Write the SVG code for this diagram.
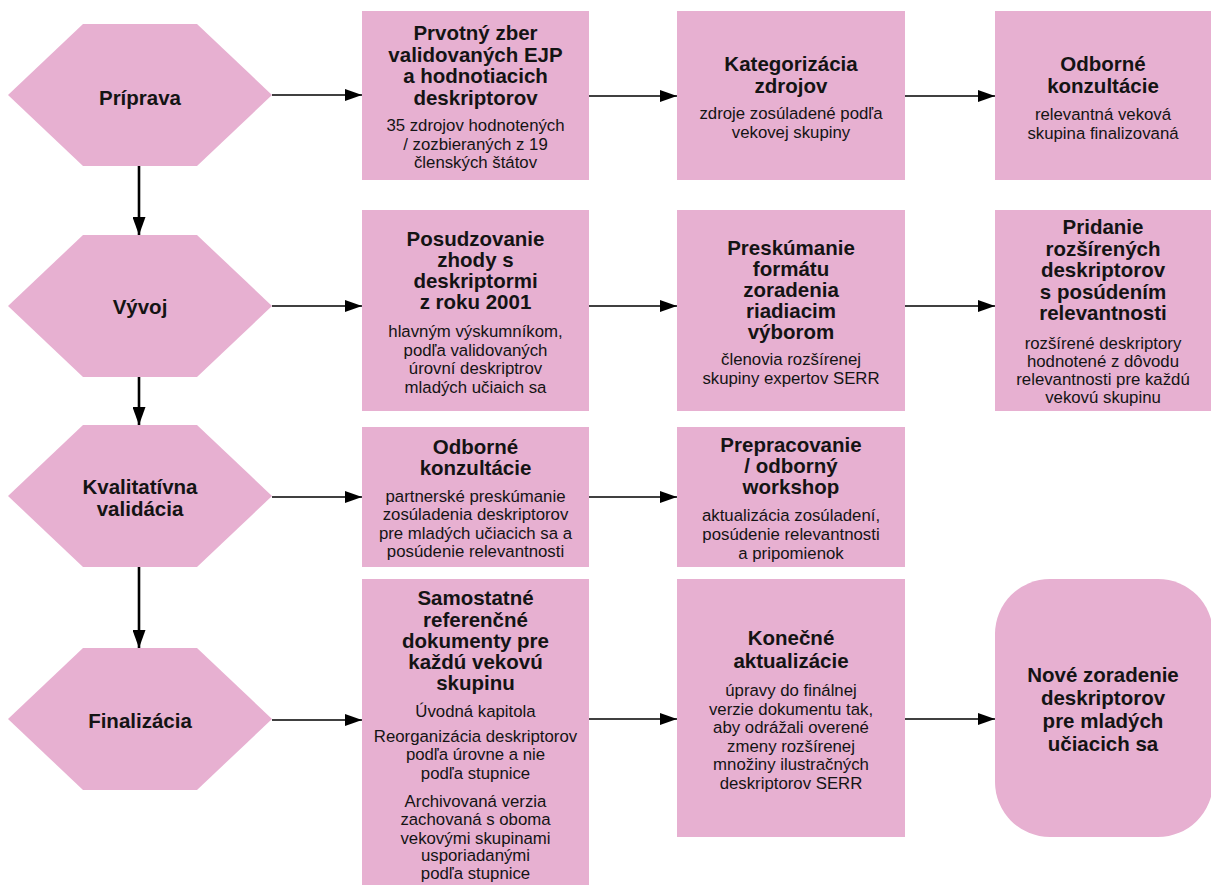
<svg xmlns="http://www.w3.org/2000/svg" width="1211" height="885" viewBox="0 0 1211 885">
<style>
.shape{fill:#E7B0D1;stroke:none}
text{font-family:"Liberation Sans",Arial,sans-serif;fill:#141414;text-anchor:middle}
.t{font-size:20.5px;font-weight:bold}
.s{font-size:16.8px}
.h{stroke:#000;stroke-width:1.4;fill:none}
.v{stroke:#000;stroke-width:2.6;fill:none}
</style>
<defs>
<marker id="ah" viewBox="0 0 17 12" refX="17" refY="6" markerWidth="17" markerHeight="12" markerUnits="userSpaceOnUse" orient="auto"><path d="M0,0 L17,6 L0,12 z" fill="#000"/></marker>
<marker id="av" viewBox="0 0 18 13" refX="18" refY="6.5" markerWidth="18" markerHeight="13" markerUnits="userSpaceOnUse" orient="auto"><path d="M0,0 L18,6.5 L0,13 z" fill="#000"/></marker>
</defs>
<rect width="1211" height="885" fill="#fff"/>

<g id="connectors">
<line class="v" x1="139" y1="166" x2="139" y2="235" marker-end="url(#av)"/>
<line class="v" x1="139" y1="377" x2="139" y2="425" marker-end="url(#av)"/>
<line class="v" x1="139" y1="567" x2="139" y2="648" marker-end="url(#av)"/>
<line class="h" x1="272" y1="95" x2="362" y2="95" marker-end="url(#ah)"/>
<line class="h" x1="589" y1="96" x2="677" y2="96" marker-end="url(#ah)"/>
<line class="h" x1="905" y1="96" x2="995" y2="96" marker-end="url(#ah)"/>
<line class="h" x1="272" y1="306" x2="362" y2="306" marker-end="url(#ah)"/>
<line class="h" x1="589" y1="306" x2="677" y2="306" marker-end="url(#ah)"/>
<line class="h" x1="905" y1="306" x2="995" y2="306" marker-end="url(#ah)"/>
<line class="h" x1="272" y1="497" x2="362" y2="497" marker-end="url(#ah)"/>
<line class="h" x1="589" y1="497" x2="677" y2="497" marker-end="url(#ah)"/>
<line class="h" x1="272" y1="720" x2="362" y2="720" marker-end="url(#ah)"/>
<line class="h" x1="589" y1="719" x2="677" y2="719" marker-end="url(#ah)"/>
<line class="h" x1="905" y1="719" x2="995" y2="719" marker-end="url(#ah)"/>
</g>

<g id="priprava">
<polygon class="shape" points="8,95 83,24 197,24 272,95 197,166 83,166"/>
<text class="t" x="140" y="105">Príprava</text>
</g>
<g id="vyvoj">
<polygon class="shape" points="8,306 83,235 197,235 272,306 197,377 83,377"/>
<text class="t" x="140" y="314">Vývoj</text>
</g>
<g id="kvalitativna">
<polygon class="shape" points="8,496 83,425 197,425 272,496 197,567 83,567"/>
<text class="t" x="140" y="494">Kvalitatívna</text>
<text class="t" x="140" y="515.5">validácia</text>
</g>
<g id="finalizacia">
<polygon class="shape" points="8,719 83,648 197,648 272,719 197,790 83,790"/>
<text class="t" x="140" y="728">Finalizácia</text>
</g>

<g id="prvotny">
<rect class="shape" x="362" y="11" width="227" height="169"/>
<text class="t" x="475.5" y="40">Prvotný zber</text>
<text class="t" x="475.5" y="61.5">validovaných EJP</text>
<text class="t" x="475.5" y="83">a hodnotiacich</text>
<text class="t" x="475.5" y="104.5">deskriptorov</text>
<text class="s" x="475.5" y="131">35 zdrojov hodnotených</text>
<text class="s" x="475.5" y="149.5">/ zozbieraných z 19</text>
<text class="s" x="475.5" y="168">členských štátov</text>
</g>
<g id="kategorizacia">
<rect class="shape" x="677" y="11" width="228" height="169"/>
<text class="t" x="791" y="71">Kategorizácia</text>
<text class="t" x="791" y="92.5">zdrojov</text>
<text class="s" x="791" y="119">zdroje zosúladené podľa</text>
<text class="s" x="791" y="137.5">vekovej skupiny</text>
</g>
<g id="odborne1">
<rect class="shape" x="995" y="11" width="216" height="169"/>
<text class="t" x="1103" y="71">Odborné</text>
<text class="t" x="1103" y="92.5">konzultácie</text>
<text class="s" x="1103" y="120">relevantná veková</text>
<text class="s" x="1103" y="138.5">skupina finalizovaná</text>
</g>

<g id="posudzovanie">
<rect class="shape" x="362" y="210" width="227" height="201"/>
<text class="t" x="475.5" y="246">Posudzovanie</text>
<text class="t" x="475.5" y="267">zhody s</text>
<text class="t" x="475.5" y="288">deskriptormi</text>
<text class="t" x="475.5" y="309">z roku 2001</text>
<text class="s" x="475.5" y="337">hlavným výskumníkom,</text>
<text class="s" x="475.5" y="355.5">podľa validovaných</text>
<text class="s" x="475.5" y="374">úrovní deskriptrov</text>
<text class="s" x="475.5" y="392.5">mladých učiaich sa</text>
</g>
<g id="preskumanie">
<rect class="shape" x="677" y="210" width="228" height="201"/>
<text class="t" x="791" y="255">Preskúmanie</text>
<text class="t" x="791" y="276">formátu</text>
<text class="t" x="791" y="297">zoradenia</text>
<text class="t" x="791" y="318">riadiacim</text>
<text class="t" x="791" y="339">výborom</text>
<text class="s" x="791" y="365">členovia rozšírenej</text>
<text class="s" x="791" y="384">skupiny expertov SERR</text>
</g>
<g id="pridanie">
<rect class="shape" x="995" y="210" width="216" height="201"/>
<text class="t" x="1103" y="234">Pridanie</text>
<text class="t" x="1103" y="255.5">rozšírených</text>
<text class="t" x="1103" y="277">deskriptorov</text>
<text class="t" x="1103" y="298.5">s posúdením</text>
<text class="t" x="1103" y="320">relevantnosti</text>
<text class="s" x="1103" y="349">rozšírené deskriptory</text>
<text class="s" x="1103" y="367">hodnotené z dôvodu</text>
<text class="s" x="1103" y="385">relevantnosti pre každú</text>
<text class="s" x="1103" y="403">vekovú skupinu</text>
</g>

<g id="odborne2">
<rect class="shape" x="362" y="427" width="227" height="140"/>
<text class="t" x="475.5" y="454">Odborné</text>
<text class="t" x="475.5" y="475">konzultácie</text>
<text class="s" x="475.5" y="502">partnerské preskúmanie</text>
<text class="s" x="475.5" y="520">zosúladenia deskriptorov</text>
<text class="s" x="475.5" y="538.5">pre mladých učiacich sa a</text>
<text class="s" x="475.5" y="557">posúdenie relevantnosti</text>
</g>
<g id="prepracovanie">
<rect class="shape" x="677" y="427" width="228" height="140"/>
<text class="t" x="791" y="452">Prepracovanie</text>
<text class="t" x="791" y="473">/ odborný</text>
<text class="t" x="791" y="494">workshop</text>
<text class="s" x="791" y="521">aktualizácia zosúladení,</text>
<text class="s" x="791" y="539.5">posúdenie relevantnosti</text>
<text class="s" x="791" y="558.5">a pripomienok</text>
</g>

<g id="samostatne">
<rect class="shape" x="362" y="579" width="227" height="310"/>
<text class="t" x="475.5" y="605">Samostatné</text>
<text class="t" x="475.5" y="626.5">referenčné</text>
<text class="t" x="475.5" y="647.5">dokumenty pre</text>
<text class="t" x="475.5" y="668.5">každú vekovú</text>
<text class="t" x="475.5" y="690">skupinu</text>
<text class="s" x="475.5" y="717">Úvodná kapitola</text>
<text class="s" x="475.5" y="742">Reorganizácia deskriptorov</text>
<text class="s" x="475.5" y="760">podľa úrovne a nie</text>
<text class="s" x="475.5" y="778.5">podľa stupnice</text>
<text class="s" x="475.5" y="807">Archivovaná verzia</text>
<text class="s" x="475.5" y="825">zachovaná s oboma</text>
<text class="s" x="475.5" y="843.5">vekovými skupinami</text>
<text class="s" x="475.5" y="861">usporiadanými</text>
<text class="s" x="475.5" y="879">podľa stupnice</text>
</g>
<g id="konecne">
<rect class="shape" x="677" y="579" width="228" height="258"/>
<text class="t" x="791" y="645">Konečné</text>
<text class="t" x="791" y="668">aktualizácie</text>
<text class="s" x="791" y="696">úpravy do finálnej</text>
<text class="s" x="791" y="714.5">verzie dokumentu tak,</text>
<text class="s" x="791" y="733">aby odrážali overené</text>
<text class="s" x="791" y="751.5">zmeny rozšírenej</text>
<text class="s" x="791" y="770">množiny ilustračných</text>
<text class="s" x="791" y="789">deskriptorov SERR</text>
</g>
<g id="nove">
<rect class="shape" x="995" y="579" width="218" height="258" rx="55" ry="55"/>
<text class="t" x="1103" y="682">Nové zoradenie</text>
<text class="t" x="1103" y="705">deskriptorov</text>
<text class="t" x="1103" y="728">pre mladých</text>
<text class="t" x="1103" y="751">učiacich sa</text>
</g>
</svg>
